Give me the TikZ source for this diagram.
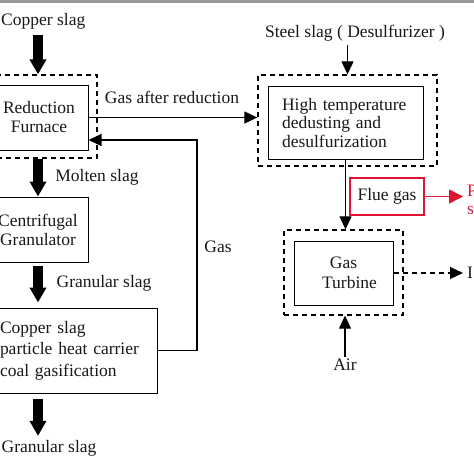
\documentclass[tikz,border=0pt]{standalone}
\usepackage{fontspec}
\setmainfont{Liberation Serif}
\usetikzlibrary{arrows.meta}
\definecolor{flue}{RGB}{222,20,50}
\begin{document}
\begin{tikzpicture}[x=1pt,y=-1pt,
  every node/.style={font=\fontsize{17.5}{19}\selectfont, text=black!90},
  box/.style={draw, line width=1pt, inner sep=0pt, align=center},
  dbox/.style={draw, line width=1.3pt, dash pattern=on 5pt off 4pt, inner sep=0pt},
  lbl/.style={inner sep=0pt},
  fat/.style={line width=10pt, -{Triangle[width=16pt,length=15pt]}},
  thin/.style={line width=1.1pt, -{Triangle[width=12pt,length=13pt]}}]
\useasboundingbox (0,0) rectangle (474,474);
\clip (0,0) rectangle (474,474);
\fill[white] (0,0) rectangle (474,474);
\fill[black!40] (0,0) rectangle (474,2.5);
% left column
\node[dbox, minimum width=118pt, minimum height=83pt] (rfd) at (38,116.5) {};
\node[box, minimum width=98pt, minimum height=65pt] (rf) at (39,117.5) {Reduction\\Furnace};
\node[box, minimum width=100pt, minimum height=65pt] (cg) at (38,229.5) {Centrifugal\\Granulator};
\node[box, minimum width=167pt, minimum height=85pt, text width=147pt, align=left,
  font=\fontsize{17.5}{21.5}\selectfont] (cgs) at (73.5,350.5) {Copper slag\\particle heat carrier\\coal gasification};
\node[lbl, anchor=west] (cs) at (1,21) {Copper slag};
\node[lbl] (gar) at (172,97) {Gas after reduction};
\node[lbl] (ms) at (97,177) {Molten slag};
\node[lbl] (gs1) at (104,283) {Granular slag};
\node[lbl] (gs2) at (49,448) {Granular slag};
\node[lbl] (gas) at (218,247) {Gas};
% right column
\node[dbox, minimum width=179pt, minimum height=91pt] (htd) at (347.5,120.5) {};
\node[box, minimum width=155pt, minimum height=73pt, text width=127pt, align=left,
  font=\fontsize{17.5}{18.5}\selectfont] (ht) at (345.5,123) {High temperature\\dedusting and\\desulfurization};
\node[draw=flue, line width=2.5pt, minimum width=74pt, minimum height=37pt, inner sep=0pt] (fg) at (387,196.5) {Flue gas};
\node[dbox, minimum width=119pt, minimum height=85pt] (gtd) at (343.5,272.5) {};
\node[box, minimum width=99pt, minimum height=64pt, font=\fontsize{17.5}{20}\selectfont] (gt) at (343.5,273) {Gas\\\hspace*{12pt}Turbine};
\node[lbl] (ss) at (355,33) {Steel slag ( Desulfurizer )};
\node[lbl] (air) at (345,365) {Air};
\node[lbl, anchor=west, text=flue] (pr) at (467,191) {P};
\node[lbl, anchor=west, text=flue] (sr) at (467,210) {s};
\node[lbl, anchor=west] (it) at (467,273) {I};
% fat arrows
\draw[fat, shorten <=6pt] (cs.south -| rfd.north) -- (rfd.north);
\draw[fat] (rfd.south) -- (rfd.south |- cg.north);
\draw[fat, shorten <=3pt, shorten >=5pt] (cg.south) -- (cg.south |- cgs.north);
\draw[fat, shorten <=5pt, shorten >=4pt] (rfd.south |- cgs.south) -- (rfd.south |- gs2.north);
% thin arrows
\draw[thin] (rf.east) -- (rf.east -| htd.west);
\coordinate (gc) at (197,140);
\draw[thin] (cgs.east) -| (gc) -- (gc -| rf.east);
\draw[thin, shorten <=4pt] (ss.south -| htd.north) -- (htd.north);
\draw[thin] (ht.south) -- (ht.south |- gtd.north);
\draw[thin, draw=flue, line width=1.5pt, -{Triangle[width=14pt,length=14pt]}, shorten >=4pt] (fg.east) -- (fg.east -| pr.west);
\draw[thin, dash pattern=on 5pt off 4pt, shorten >=4pt] (gt.east) -- (gt.east -| it.west);
\draw[thin, shorten <=2pt] (air.north) -- (air.north |- gtd.south);
\end{tikzpicture}
\end{document}
